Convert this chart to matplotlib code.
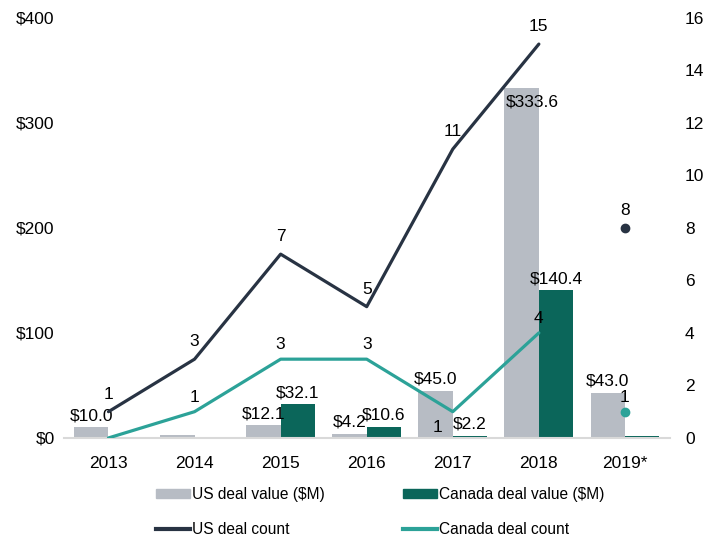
import numpy as np
import matplotlib.pyplot as plt
from matplotlib.patches import Patch
from matplotlib.lines import Line2D

plt.rcParams['font.family'] = ['Liberation Sans', 'DejaVu Sans']

# данные
years = ['2013', '2014', '2015', '2016', '2017', '2018', '2019*']
us_value = [10.0, 3.0, 12.1, 4.2, 45.0, 333.6, 43.0]
ca_value = [0.0, 0.0, 32.1, 10.6, 2.2, 140.4, 1.5]
us_value_lbl = ['$10.0', None, '$12.1', '$4.2', '$45.0', '$333.6', '$43.0']
ca_value_lbl = [None, None, '$32.1', '$10.6', '$2.2', '$140.4', None]
us_count = [1, 3, 7, 5, 11, 15, 8]
ca_count = [0, 1, 3, 3, 1, 4, 1]

c_us_bar = '#B7BCC4'
c_ca_bar = '#0B665A'
c_us_line = '#283343'
c_ca_line = '#2CA298'
fs = 12.5

fig = plt.figure(figsize=(7.24, 5.40), dpi=100)
ax = fig.add_axes([0.088, 0.189, 0.837, 0.778])
ax2 = ax.twinx()

x = np.arange(len(years))
w = 0.4
ax.bar(x - w / 2, us_value, w, color=c_us_bar)
ax.bar(x + w / 2, ca_value, w, color=c_ca_bar)

for i in range(len(years)):
    if us_value_lbl[i]:
        if us_value[i] > 300:
            # подпись внутри столбца
            ax.annotate(us_value_lbl[i], (x[i] - w / 2, us_value[i]), xytext=(8, -5),
                        textcoords='offset points', ha='center', va='top', fontsize=fs)
        else:
            ax.annotate(us_value_lbl[i], (x[i] - w / 2, us_value[i]), xytext=(0, 3),
                        textcoords='offset points', ha='center', va='bottom', fontsize=fs)
    if ca_value_lbl[i]:
        ax.annotate(ca_value_lbl[i], (x[i] + w / 2, ca_value[i]), xytext=(0, 3),
                    textcoords='offset points', ha='center', va='bottom', fontsize=fs)

# линии без 2019*
ax2.plot(x[:6], us_count[:6], color=c_us_line, lw=2.3, solid_capstyle='round')
ax2.plot(x[:6], ca_count[:6], color=c_ca_line, lw=2.3, solid_capstyle='round')
ax2.plot(x[6], us_count[6], 'o', color=c_us_line, ms=6)
ax2.plot(x[6], ca_count[6], 'o', color=c_ca_line, ms=6)

for i in range(len(years)):
    ax2.annotate(str(us_count[i]), (x[i], us_count[i]), xytext=(0, 7),
                 textcoords='offset points', ha='center', va='bottom', fontsize=fs)
    if ca_count[i] == 0:
        continue
    if i == 4:
        ax2.annotate(str(ca_count[i]), (x[i], ca_count[i]), xytext=(-11, -6),
                     textcoords='offset points', ha='center', va='top', fontsize=fs)
    else:
        ax2.annotate(str(ca_count[i]), (x[i], ca_count[i]), xytext=(0, 5),
                     textcoords='offset points', ha='center', va='bottom', fontsize=fs)

ax.set_xlim(-0.52, 6.52)
ax.set_ylim(0, 400)
ax2.set_ylim(0, 16)
ax.set_yticks([0, 100, 200, 300, 400])
ax.set_yticklabels(['$0', '$100', '$200', '$300', '$400'])
ax2.set_yticks(range(0, 17, 2))
ax.set_xticks(x)
ax.set_xticklabels(years)

for a in (ax, ax2):
    for s in a.spines.values():
        s.set_visible(False)
    a.tick_params(length=0, labelsize=fs)
ax.spines['bottom'].set_visible(True)
ax.spines['bottom'].set_color('#D9D9D9')
ax.spines['bottom'].set_linewidth(1.5)
ax.tick_params(axis='x', pad=13)
ax.tick_params(axis='y', pad=6.5)
ax2.tick_params(axis='y', pad=11)

handles = [Patch(color=c_us_bar), Line2D([], [], color=c_us_line, lw=3),
           Patch(color=c_ca_bar), Line2D([], [], color=c_ca_line, lw=3)]
labels = ['US deal value ($M)', 'US deal count', 'Canada deal value ($M)', 'Canada deal count']
fig.legend(handles, labels, loc='center', bbox_to_anchor=(0.525, 0.052), ncol=2,
           frameon=False, fontsize=11.2, handlelength=2.2, handleheight=0.55,
           handletextpad=0.15, columnspacing=5.0, labelspacing=1.3)

fig.savefig('out.png', dpi=100)
